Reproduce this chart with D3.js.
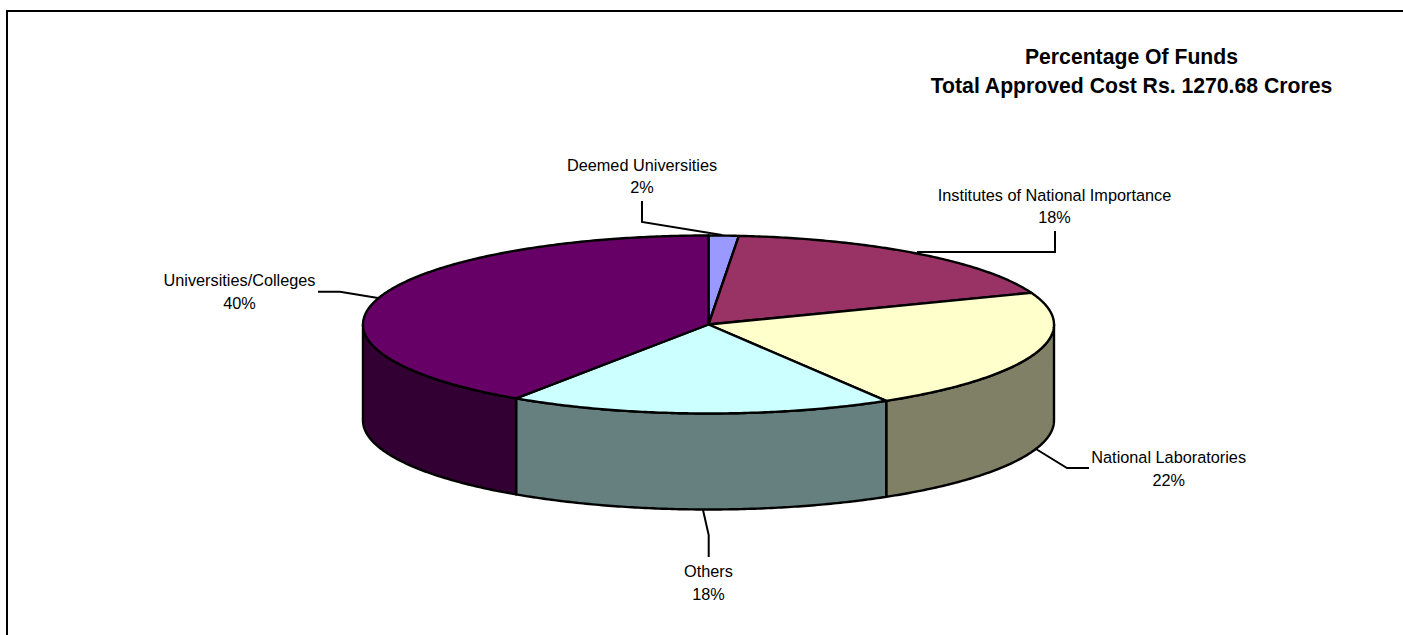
<!DOCTYPE html>
<html><head><meta charset="utf-8">
<script src="https://cdnjs.cloudflare.com/ajax/libs/d3/7.8.5/d3.min.js"></script>
<style>html,body{margin:0;padding:0;background:#fff}svg{display:block}text{font-family:"Liberation Sans",Arial,sans-serif;fill:#000}</style>
</head><body><svg id="c" width="1403" height="635"></svg>
<script>
const categories=["Deemed Universities","Institutes of National Importance","National Laboratories","Others","Universities/Colleges"];
const values=[1.4,17.8,22.2,18.0,40.6];
const percentLabels=["2%","18%","22%","18%","40%"];
const topColors=["#9999FF","#993366","#FFFFCC","#CCFFFF","#660066"];
const sideColors=["#4D4D80","#4D1A33","#808066","#668080","#330033"];
const titleLines=["Percentage Of Funds","Total Approved Cost Rs. 1270.68 Crores"];
const labelAnchors=[[642,171],[1054.5,200.7],[1168.7,463.2],[708.5,577.2],[239.5,286.4]];
const leaders=[[[642,201],[642,222],[722,235]],[[1055,231],[1055,252],[917,252]],[[1089,468],[1067,468],[1036,449]],[[708.7,557],[708.7,535],[703,510]],[[318,291.7],[340,291.7],[378,298]]];

const svg=d3.select("#c");
const cx=708.5,cy=324.5,rx=345.5,ry=89,depth=96;
const sx=d3.scaleLinear().domain([-1,1]).range([cx-rx,cx+rx]);
const sy=d3.scaleLinear().domain([-1,1]).range([cy-ry,cy+ry]);
const pt=(a,d=0)=>[sx(Math.sin(a)),sy(-Math.cos(a))+d];
const line=d3.line();
const sample=(a0,a1)=>{const n=Math.max(2,Math.ceil(Math.abs(a1-a0)/0.01));return d3.range(n+1).map(i=>a0+(a1-a0)*i/n);};
const arcs=d3.pie().sort(null).value(d=>d)(values);

// frame
svg.append("path").attr("d",line([[7,635],[7,11],[1403,11]])).attr("fill","none").attr("stroke","#000").attr("stroke-width",2);

// walls (front half only)
const PI=Math.PI;
arcs.forEach((d,i)=>{
  const a0=Math.max(d.startAngle,PI/2),a1=Math.min(d.endAngle,3*PI/2);
  if(a1<=a0)return;
  const s=sample(a0,a1);
  const pts=s.map(a=>pt(a)).concat(s.slice().reverse().map(a=>pt(a,depth)));
  svg.append("path").attr("d",line(pts)+"Z").attr("fill",sideColors[i]).attr("stroke","#000").attr("stroke-width",2.4).attr("stroke-linejoin","round");
});
// top faces
arcs.forEach((d,i)=>{
  const pts=[[sx(0),sy(0)]].concat(sample(d.startAngle,d.endAngle).map(a=>pt(a)));
  svg.append("path").attr("d",line(pts)+"Z").attr("fill",topColors[i]).attr("stroke","#000").attr("stroke-width",2.4).attr("stroke-linejoin","round");
});
// leaders
leaders.forEach(l=>svg.append("path").attr("d",line(l)).attr("fill","none").attr("stroke","#000").attr("stroke-width",2));
// labels
categories.forEach((c,i)=>{
  const [x,y]=labelAnchors[i];
  const t=svg.append("text").attr("text-anchor","middle").attr("font-size",16.3);
  t.append("tspan").attr("x",x).attr("y",y).text(c);
  t.append("tspan").attr("x",x).attr("y",y+22.4).text(percentLabels[i]);
});
// title
const title=svg.append("text").attr("text-anchor","middle").attr("font-size",21.2).attr("font-weight","bold");
titleLines.forEach((s,i)=>title.append("tspan").attr("x",1131.5).attr("y",[64,92.7][i]).text(s));
</script></body></html>
